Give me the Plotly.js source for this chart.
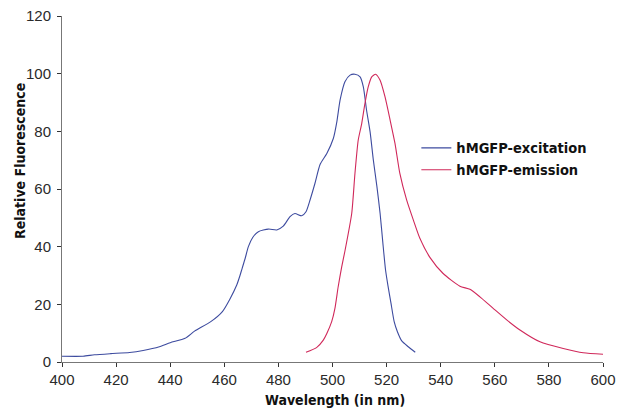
<!DOCTYPE html>
<html>
<head>
<meta charset="utf-8">
<script src="https://cdn.plot.ly/plotly-3.0.1.min.js"></script>
<style>html,body{margin:0;padding:0;background:#fff;}#chart{width:629px;height:412px;}</style>
</head>
<body>
<div id="chart"></div>
<script>
const excitationWavelength = [400, 407.8, 412, 418, 425, 430, 436, 440, 445.5, 449, 455, 459.3, 462, 464.6, 465.8, 466.6, 467.7, 468.9, 470.5, 472.6, 476.3, 479.4, 481.8, 484.3, 486.1, 488.6, 490.2, 491.7, 493.5, 495.4, 497.9, 500.3, 501.6, 502.8, 504.6, 506.5, 508.3, 510.2, 511.4, 512.6, 513.9, 515.1, 516.4, 517.6, 518.6, 519.6, 520.5, 521.6, 522.8, 524.0, 525.6, 528, 530.6];
const excitationValue = [2.0, 2.0, 2.5, 2.9, 3.3, 4.0, 5.3, 6.7, 8.2, 10.7, 14.0, 17.5, 21.7, 26.7, 30.0, 32.5, 35.9, 40.0, 43.2, 45.2, 46.1, 45.8, 47.1, 50.4, 51.5, 50.7, 52.1, 56.2, 61.9, 68.5, 72.3, 77.5, 83.3, 90.8, 97.2, 99.5, 99.8, 98.9, 95.4, 87.3, 79.8, 70.0, 61.0, 51.5, 41.5, 32.0, 26.5, 20.5, 14.0, 10.5, 7.3, 5.3, 3.4];
const emissionWavelength = [490.2, 494.1, 496.6, 497.9, 499.7, 500.9, 502.1, 503.4, 504.6, 507.1, 508.3, 509.5, 510.8, 512, 513.2, 514.5, 515.9, 517.6, 519.4, 521.3, 523.1, 524.9, 527.4, 529.9, 532.3, 536, 540.9, 547.1, 550.8, 554.5, 559.4, 564.4, 569.3, 576.7, 585.3, 592.7, 600];
const emissionValue = [3.4, 5.0, 7.6, 9.9, 14.0, 18.6, 26.1, 33.0, 38.5, 51.5, 65.4, 76.9, 82.7, 89.7, 95.4, 98.9, 99.8, 97.7, 92.0, 83.9, 75.8, 65.4, 56.2, 49.2, 42.9, 36.3, 30.7, 26.3, 25.2, 22.6, 18.6, 14.6, 11.1, 7.0, 4.7, 3.2, 2.7];
const seriesNames = ["hMGFP-excitation", "hMGFP-emission"];
const xTicks = [400, 420, 440, 460, 480, 500, 520, 540, 560, 580, 600];
const yTicks = [0, 20, 40, 60, 80, 100, 120];
const xTitle = "Wavelength (in nm)";
const yTitle = "Relative Fluorescence";

const boldFamily = "'DejaVu Sans Condensed', 'Liberation Sans', Arial, sans-serif";
const titleFont = {family: boldFamily, size: 14, color: "#111", weight: "bold"};
const legendFont = {family: boldFamily, size: 14.5, color: "#111", weight: "bold"};
const tickFont = {family: "'Liberation Sans', Arial, sans-serif", size: 15, color: "#2a2a2a"};

const traces = [
  {x: excitationWavelength, y: excitationValue, name: seriesNames[0], type: "scatter", mode: "lines",
   line: {color: "#3d4b9f", width: 1.1, shape: "spline", smoothing: 0.6}},
  {x: emissionWavelength, y: emissionValue, name: seriesNames[1], type: "scatter", mode: "lines",
   line: {color: "#d0285a", width: 1.1, shape: "spline", smoothing: 0.6}}
];

const layout = {
  width: 629, height: 412,
  margin: {l: 62, r: 26, t: 16, b: 50},
  paper_bgcolor: "#fff", plot_bgcolor: "#fff",
  showlegend: true,
  legend: {x: 0.655, y: 0.665, xanchor: "left", yanchor: "top", font: legendFont, bgcolor: "rgba(0,0,0,0)", tracegroupgap: 0},
  xaxis: {range: [400, 600], tickvals: xTicks, ticktext: xTicks.map(String), showgrid: false, zeroline: false,
    showline: true, linecolor: "#777", linewidth: 1, ticks: "outside", ticklen: 4, tickcolor: "#333", tickfont: tickFont},
  yaxis: {range: [0, 120], tickvals: yTicks, ticktext: yTicks.map(String), showgrid: false, zeroline: false,
    showline: true, linecolor: "#777", linewidth: 1, ticks: "outside", ticklen: 4, tickcolor: "#333", tickfont: tickFont,
    ticklabelstandoff: 3},
  annotations: [
    {text: xTitle, xref: "paper", yref: "paper", x: 0.5046, y: -0.11, xanchor: "center", yanchor: "middle", showarrow: false, font: titleFont},
    {text: yTitle, xref: "paper", yref: "paper", x: -0.0776, y: 0.581, xanchor: "center", yanchor: "middle", textangle: -90, showarrow: false, font: titleFont}
  ]
};

Plotly.newPlot("chart", traces, layout, {displayModeBar: false, staticPlot: true});
</script>
</body>
</html>
